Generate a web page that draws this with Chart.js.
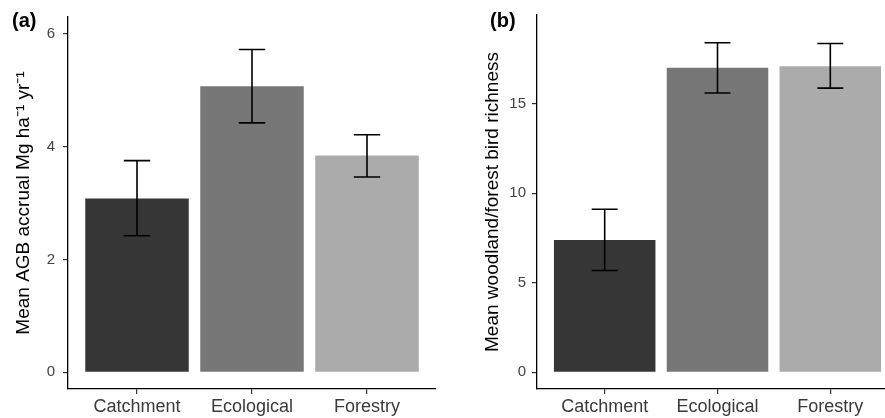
<!DOCTYPE html>
<html>
<head>
<meta charset="utf-8">
<script src="https://cdn.jsdelivr.net/npm/chart.js@4"></script>
<style>
  html, body { margin: 0; padding: 0; background: #fff; overflow: hidden; }
  #quadro { position: relative; width: 885px; height: 418px; overflow: hidden; }
  .painel { position: absolute; top: 0; height: 418px; }
  #painelA { left: 0; width: 440px; }
  #painelB { left: 440px; width: 460px; }
</style>
</head>
<body>
<div id="quadro">
  <div class="painel" id="painelA"><canvas id="graficoA"></canvas></div>
  <div class="painel" id="painelB"><canvas id="graficoB"></canvas></div>
</div>
<script>
// --- DADOS ---
const categorias = ['Catchment', 'Ecological', 'Forestry'];
const coresBarras = ['#363636', '#777777', '#ababab'];

// (a) AGB
const agbMedia = [3.08, 5.07, 3.84];
const agbInferior = [2.42, 4.42, 3.46];
const agbSuperior = [3.75, 5.72, 4.21];
const ticksA = [0, 2, 4, 6];

// (b) riqueza de aves
const riquezaMedia = [7.38, 17.0, 17.09];
const riquezaInferior = [5.68, 15.59, 15.86];
const riquezaSuperior = [9.10, 18.40, 18.35];
const ticksB = [0, 5, 10, 15];

const fonte = "'Liberation Sans', Arial, sans-serif";

// Barras de erro desenhadas pelas escalas do próprio gráfico
const barrasErro = {
    id: 'barrasErro',
    afterDatasetsDraw(chart, args, opts) {
        const { ctx, scales: { x, y } } = chart;
        ctx.save();
        ctx.strokeStyle = '#000';
        ctx.lineWidth = 1.6;
        opts.inferior.forEach((lo, i) => {
            const hi = opts.superior[i];
            const xc = x.getPixelForValue(i);
            const xe = x.getPixelForValue(i - 0.115);
            const xd = x.getPixelForValue(i + 0.115);
            const yl = y.getPixelForValue(lo);
            const yh = y.getPixelForValue(hi);
            ctx.beginPath();
            ctx.moveTo(xc, yl); ctx.lineTo(xc, yh);
            ctx.moveTo(xe, yl); ctx.lineTo(xd, yl);
            ctx.moveTo(xe, yh); ctx.lineTo(xd, yh);
            ctx.stroke();
        });
        ctx.restore();
    }
};

// Letra do painel, (a) / (b)
const letraPainel = {
    id: 'letraPainel',
    afterDraw(chart, args, opts) {
        const ctx = chart.ctx;
        ctx.save();
        ctx.font = 'bold 20px ' + fonte;
        ctx.fillStyle = '#000';
        ctx.textBaseline = 'middle';
        ctx.textAlign = 'left';
        ctx.fillText(opts.texto, opts.x, opts.y);
        ctx.restore();
    }
};

function criarGrafico(id, cfg) {
    return new Chart(document.getElementById(id), {
        type: 'bar',
        data: {
            datasets: [{
                data: cfg.medias.map((v, i) => ({ x: i, y: v })),
                backgroundColor: coresBarras,
                borderWidth: 0,
                categoryPercentage: 0.9,
                barPercentage: 1
            }]
        },
        options: {
            responsive: true,
            maintainAspectRatio: false,
            animation: false,
            layout: { padding: { top: 9, right: cfg.direita, left: 0, bottom: 0 } },
            plugins: {
                legend: { display: false },
                tooltip: { enabled: false },
                barrasErro: { inferior: cfg.inferior, superior: cfg.superior },
                letraPainel: cfg.letra
            },
            scales: {
                x: {
                    type: 'linear',
                    min: -0.6,
                    max: 2.6,
                    offset: false,
                    afterBuildTicks: s => { s.ticks = categorias.map((_, i) => ({ value: i })); },
                    afterFit: s => { s.height = 29; },
                    ticks: {
                        callback: v => categorias[v],
                        font: { family: fonte, size: 18 },
                        color: '#3a3a3a',
                        padding: 2,
                        maxRotation: 0,
                        autoSkip: false
                    },
                    grid: { offset: false, drawOnChartArea: false, tickLength: 5, color: '#333', lineWidth: 1.2 },
                    border: { color: '#000', width: 1.3 }
                },
                y: {
                    min: cfg.ymin,
                    max: cfg.ymax,
                    afterBuildTicks: s => { s.ticks = cfg.ticks.map(v => ({ value: v })); },
                    afterFit: s => { s.width = cfg.largura; },
                    ticks: {
                        font: { family: fonte, size: 15 },
                        color: '#444',
                        padding: cfg.padTick
                    },
                    grid: { drawOnChartArea: false, tickLength: 5, color: '#333', lineWidth: 1.2 },
                    border: { color: '#000', width: 1.3 },
                    title: {
                        display: true,
                        text: cfg.titulo,
                        color: '#000',
                        font: { family: fonte, size: 19 },
                        padding: { top: cfg.padTitulo, bottom: 0 }
                    }
                }
            }
        },
        plugins: [barrasErro, letraPainel]
    });
}

document.addEventListener('DOMContentLoaded', () => {
    criarGrafico('graficoA', {
        medias: agbMedia, inferior: agbInferior, superior: agbSuperior,
        ticks: ticksA, ymin: -0.295, ymax: 6.295,
        largura: 68, direita: 4, padTick: 8, padTitulo: 12,
        titulo: 'Mean AGB accrual Mg ha\u207B\u00B9 yr\u207B\u00B9',
        letra: { texto: '(a)', x: 12, y: 21 }
    });
    criarGrafico('graficoB', {
        medias: riquezaMedia, inferior: riquezaInferior, superior: riquezaSuperior,
        ticks: ticksB, ymin: -0.934, ymax: 19.945,
        largura: 97, direita: 2, padTick: 6, padTitulo: 41.6,
        titulo: 'Mean woodland/forest bird richness',
        letra: { texto: '(b)', x: 50, y: 21 }
    });
});
</script>
</body>
</html>
